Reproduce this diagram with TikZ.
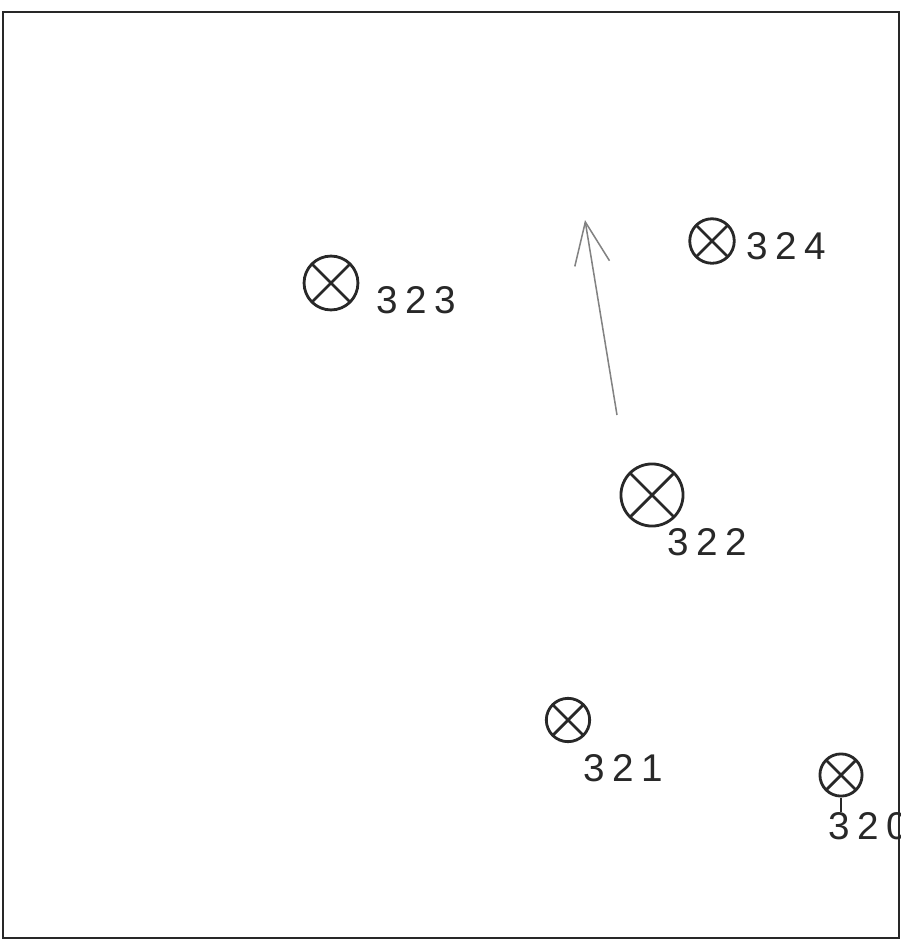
\documentclass[tikz,border=0pt]{standalone}
\usepackage{fontspec}
\setmainfont{Liberation Sans}[LetterSpace=20]
\usepackage{tikz}
\usetikzlibrary{arrows.meta}
\definecolor{cInk}{RGB}{40,40,40}
\definecolor{cPencil}{RGB}{130,130,130}
\tikzset{
	probe/.style={circle, draw=cInk, line width=2.4pt, inner sep=0pt,
		path picture={\draw[cInk, line width=2.4pt]
			(path picture bounding box.north west) -- (path picture bounding box.south east)
			(path picture bounding box.north east) -- (path picture bounding box.south west);}},
	lbl/.style={text=cInk, inner sep=0pt, font=\fontsize{33}{38}\selectfont},
	heading/.style={-{Straight Barb[length=36pt, width=30pt]}, cPencil, line width=1.3pt},
}
\begin{document}
\begin{tikzpicture}[x=0.03cm, y=-0.03cm]
	\useasboundingbox (0,0) rectangle (901,942);
	\draw[cInk, line width=1.8pt] (3,12) rectangle (899,938);
	% wells
	\node[probe, minimum size=46pt] (p323) at (331,283) {};
	\node[probe, minimum size=38pt] (p324) at (712,241) {};
	\node[probe, minimum size=53pt] (p322) at (652,495) {};
	\node[probe, minimum size=37pt] (p321) at (568,720) {};
	\node[probe, minimum size=36pt] (p320) at (841,775) {};
	% labels
	\node[lbl] (l323) at (416,300) {323};
	\node[lbl] (l324) at (786,246) {324};
	\node[lbl] (l322) at (707,542) {322};
	\node[lbl] (l321) at (623,768) {321};
	\node[lbl, anchor=west] (l320) at (828,826) {320};
	\draw[cInk, line width=1.6pt] (p320.south) -- (l320.north -| p320.south);
	% north arrow
	\coordinate (nbase) at (617,415);
	\coordinate (ntip) at (585,220);
	\draw[heading] (nbase) -- (ntip);
\end{tikzpicture}
\end{document}
